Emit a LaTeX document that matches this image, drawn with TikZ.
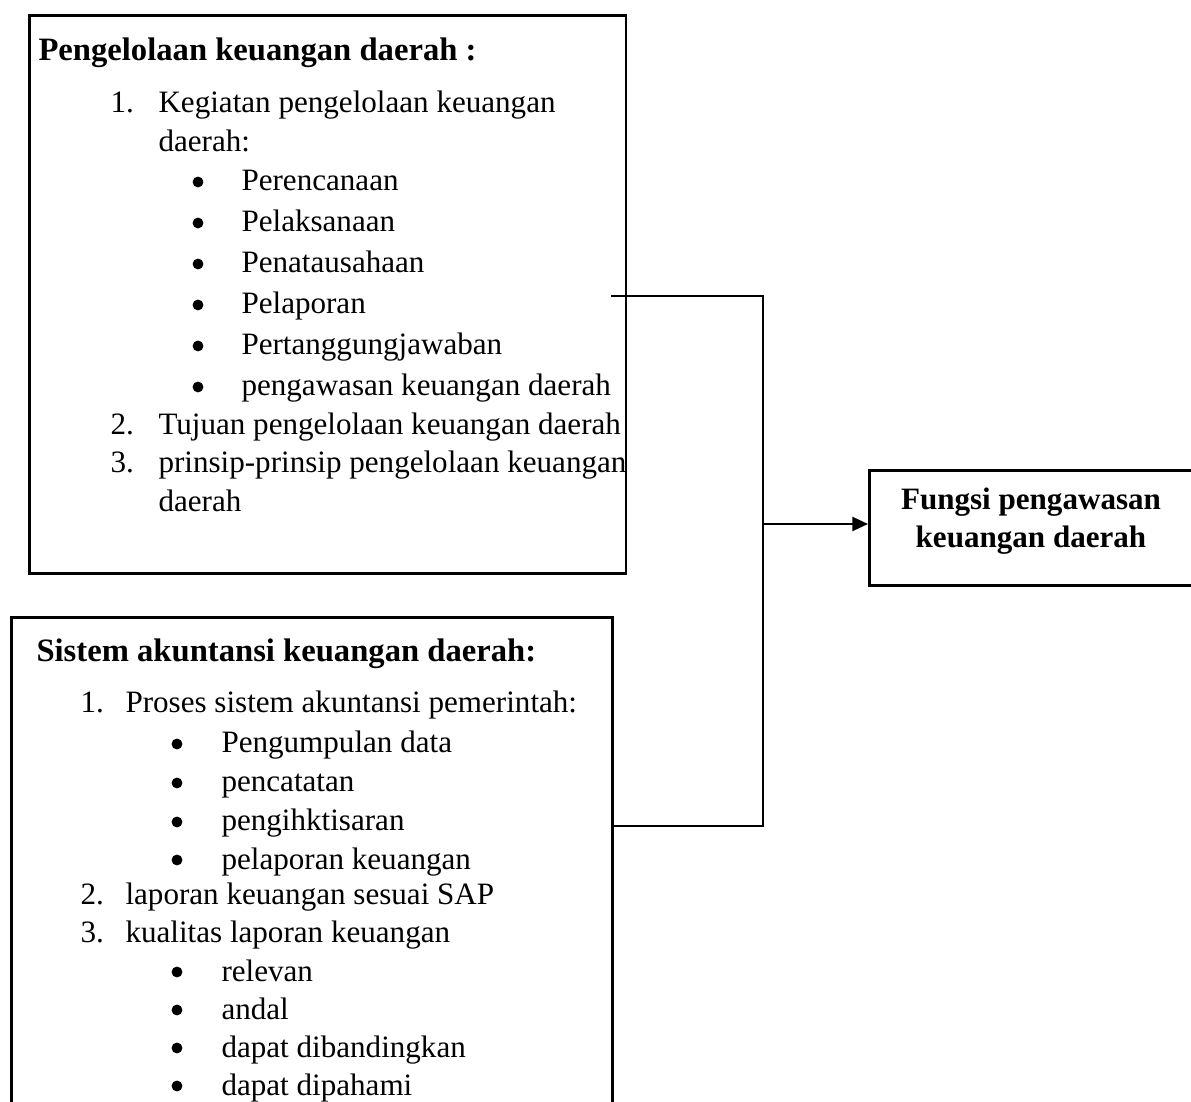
\documentclass[tikz,border=0pt]{standalone}
\usepackage{fontspec}
\setmainfont{Liberation Serif}
\usetikzlibrary{arrows.meta}
\usetikzlibrary{positioning}
\tikzset{%
  box/.style = {rectangle,draw,line width=1pt,anchor=north west,
        inner sep=0pt},
  t/.style = {anchor=base west,inner sep=0pt},
  h/.style = {anchor=base west,inner sep=0pt,font=\fontsize{12.6pt}{15pt}\selectfont\bfseries},
  dot/.style = {circle,fill,inner sep=0pt,minimum size=4.2pt},
  line/.style = {line width=0.8pt},
  arr/.style = {-{Triangle[length=6pt,width=5.4pt]},line width=0.8pt}
}

\begin{document}
\begin{tikzpicture}[x=0.386pt,y=-0.386pt,font=\fontsize{12pt}{14.4pt}\selectfont]
   \clip (0,0) rectangle (1191,1102);
   % boxes
   \node[box,minimum width=230.4pt,minimum height=215.4pt] (keu) at (28,14) {};
   \node[box,minimum width=232pt,minimum height=198.4pt] (sak) at (10,616) {};
   \node[box,minimum width=125.5pt,minimum height=44.4pt] (fungsi) at (868,469) {};
   \node[align=center,font=\fontsize{12pt}{14.6pt}\selectfont\bfseries]
         (fungsi-text) at (1031,521) {Fungsi pengawasan\\keuangan daerah};
   % first box
   \node[h] (keu-title) at (38,61) {Pengelolaan keuangan daerah :};
   \node[t] (keu-n1) at (110,113) {1.};
   \node[t] (keu-1) at (158,113) {Kegiatan pengelolaan keuangan};
   \node[t] (keu-1b) at (158,152) {daerah:};
   \node[dot] (keu-d1) at (198,182) {};
   \node[t] (keu-b1) at (241,191) {Perencanaan};
   \node[dot] (keu-d2) at (198,223) {};
   \node[t] (keu-b2) at (241,232) {Pelaksanaan};
   \node[dot] (keu-d3) at (198,264) {};
   \node[t] (keu-b3) at (241,273) {Penatausahaan};
   \node[dot] (keu-d4) at (198,305) {};
   \node[t] (keu-b4) at (241,314) {Pelaporan};
   \node[dot] (keu-d5) at (198,346) {};
   \node[t] (keu-b5) at (241,355) {Pertanggungjawaban};
   \node[dot] (keu-d6) at (198,387) {};
   \node[t] (keu-b6) at (241,396) {pengawasan keuangan daerah};
   \node[t] (keu-n2) at (110,435) {2.};
   \node[t] (keu-2) at (158,435) {Tujuan pengelolaan keuangan daerah};
   \node[t] (keu-n3) at (110,473) {3.};
   \node[t] (keu-3) at (158,473) {prinsip-prinsip pengelolaan keuangan};
   \node[t] (keu-3b) at (158,512) {daerah};
   % second box
   \node[h] (sak-title) at (36,662) {Sistem akuntansi keuangan daerah:};
   \node[t] (sak-n1) at (80,713) {1.};
   \node[t] (sak-1) at (125,713) {Proses sistem akuntansi pemerintah:};
   \node[dot] (sak-d1) at (177,744) {};
   \node[t] (sak-b1) at (221,753) {Pengumpulan data};
   \node[dot] (sak-d2) at (177,783) {};
   \node[t] (sak-b2) at (221,792) {pencatatan};
   \node[dot] (sak-d3) at (177,822) {};
   \node[t] (sak-b3) at (221,831) {pengihktisaran};
   \node[dot] (sak-d4) at (177,860) {};
   \node[t] (sak-b4) at (221,869) {pelaporan keuangan};
   \node[t] (sak-n2) at (80,905) {2.};
   \node[t] (sak-2) at (125,905) {laporan keuangan sesuai SAP};
   \node[t] (sak-n3) at (80,943) {3.};
   \node[t] (sak-3) at (125,943) {kualitas laporan keuangan};
   \node[dot] (sak-d5) at (177,972) {};
   \node[t] (sak-b5) at (221,981) {relevan};
   \node[dot] (sak-d6) at (177,1010) {};
   \node[t] (sak-b6) at (221,1019) {andal};
   \node[dot] (sak-d7) at (177,1048) {};
   \node[t] (sak-b7) at (221,1057) {dapat dibandingkan};
   \node[dot] (sak-d8) at (177,1086) {};
   \node[t] (sak-b8) at (221,1095) {dapat dipahami};
   % connectors
   \coordinate (start) at (611,296);
   \coordinate (tr) at (763,296);
   \coordinate (br) at (763,826);
   \coordinate (join) at (763,524);
   \draw[line] (start) -- (tr) -- (br) -- (sak.east |- br);
   \draw[arr] (join) -- (fungsi.west |- join);
\end{tikzpicture}
\end{document}
